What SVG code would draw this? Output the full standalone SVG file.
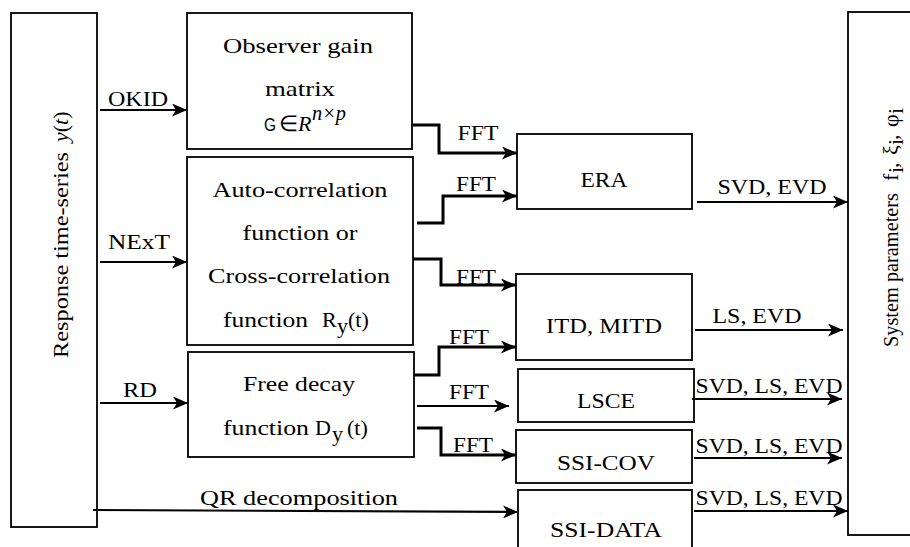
<svg xmlns="http://www.w3.org/2000/svg" width="910" height="547" viewBox="0 0 910 547">
<style>
.t{font-family:"Liberation Serif","Times New Roman",serif;font-size:22px;fill:#000}
.m{text-anchor:middle}
.box{fill:#fff;stroke:#000;stroke-width:1.8}
.c{fill:none;stroke:#000;stroke-width:2.2}
.f{fill:none;stroke:#000;stroke-width:3}
.it{font-style:italic}
</style>
<defs>
<marker id="ah" markerUnits="userSpaceOnUse" markerWidth="16" markerHeight="13" refX="15" refY="6.5" orient="auto">
<path d="M0,0 L15,6.5 L0,13 L4,6.5 Z" fill="#000"/>
</marker>
</defs>
<rect width="910" height="547" fill="#fff"/>

<g id="response">
<rect class="box" x="11" y="13" width="86" height="514"/>
<g transform="translate(68,358) rotate(-90)">
<text class="t" x="0" y="0" textLength="206" lengthAdjust="spacingAndGlyphs">Response time-series</text>
<text class="t" x="216" y="0"><tspan class="it">y</tspan>(<tspan class="it">t</tspan>)</text>
</g>
</g>

<g id="system">
<rect class="box" x="848" y="12" width="70" height="523"/>
<g transform="translate(898,347) rotate(-90)">
<text class="t" x="0" y="0" font-size="21" textLength="154" lengthAdjust="spacingAndGlyphs">System parameters</text>
<text class="t" x="166" y="0">f</text><text class="t" x="174" y="5" font-size="14">i</text><text class="t" x="179" y="0">,</text>
<text class="t" x="192" y="0">ξ</text><text class="t" x="202" y="5" font-size="14">i</text><text class="t" x="207" y="0">,</text>
<text class="t" x="220" y="0">φ</text><text class="t" x="233" y="5" font-size="14">i</text>
</g>
</g>

<g id="observer">
<rect class="box" x="187" y="13" width="225" height="136"/>
<text class="t m" x="298" y="53" textLength="150" lengthAdjust="spacingAndGlyphs">Observer gain</text>
<text class="t m" x="300" y="96" font-size="23" textLength="70" lengthAdjust="spacingAndGlyphs">matrix</text>
<text x="264" y="131" font-family="Liberation Sans, Arial, sans-serif" font-size="19" textLength="12" lengthAdjust="spacingAndGlyphs">G</text>
<text class="t m" x="288" y="131" font-size="16">∈</text>
<text class="t it" x="298" y="131">R</text>
<text class="t it" x="312" y="120" font-size="15" textLength="34" lengthAdjust="spacingAndGlyphs">n×p</text>
</g>

<g id="autocorr">
<rect class="box" x="187" y="157" width="226" height="188"/>
<text class="t m" x="300" y="197" textLength="175" lengthAdjust="spacingAndGlyphs">Auto-correlation</text>
<text class="t m" x="300" y="240" textLength="115" lengthAdjust="spacingAndGlyphs">function or</text>
<text class="t m" x="299" y="283" textLength="182" lengthAdjust="spacingAndGlyphs">Cross-correlation</text>
<text class="t" x="223" y="327" textLength="85" lengthAdjust="spacingAndGlyphs">function</text>
<text class="t" x="322" y="327">R</text>
<text class="t" x="337" y="333" font-size="15">y</text>
<text class="t" x="348" y="327" font-size="23">(t)</text>
</g>

<g id="freedecay">
<rect class="box" x="188" y="352" width="226" height="105"/>
<text class="t m" x="299" y="391" textLength="112" lengthAdjust="spacingAndGlyphs">Free decay</text>
<text class="t" x="223" y="435" textLength="86" lengthAdjust="spacingAndGlyphs">function</text>
<text class="t" x="315" y="435">D</text>
<text class="t" x="332" y="441" font-size="15">y</text>
<text class="t" x="347" y="435" font-size="23">(t)</text>
</g>

<g id="era">
<rect class="box" x="517" y="134" width="175" height="75"/>
<text class="t m" x="604" y="187" textLength="47" lengthAdjust="spacingAndGlyphs">ERA</text>
</g>

<g id="itd">
<rect class="box" x="516" y="274" width="176" height="86"/>
<text class="t m" x="604" y="333" textLength="116" lengthAdjust="spacingAndGlyphs">ITD, MITD</text>
</g>

<g id="lsce">
<rect class="box" x="518" y="369" width="176" height="53"/>
<text class="t m" x="606" y="408" textLength="58" lengthAdjust="spacingAndGlyphs">LSCE</text>
</g>

<g id="ssicov">
<rect class="box" x="516" y="430" width="176" height="53"/>
<text class="t m" x="606" y="470" textLength="98" lengthAdjust="spacingAndGlyphs">SSI-COV</text>
</g>

<g id="ssidata">
<rect class="box" x="518" y="490" width="174" height="70"/>
<text class="t m" x="606" y="537" textLength="112" lengthAdjust="spacingAndGlyphs">SSI-DATA</text>
</g>

<g id="connectors">
<path class="c" d="M100,110 H187" marker-end="url(#ah)"/>
<path class="c" d="M100,262 H187" marker-end="url(#ah)"/>
<path class="c" d="M100,403 H188" marker-end="url(#ah)"/>
<path class="c" d="M93,510 L518,512" marker-end="url(#ah)"/>
<path class="f" d="M413,125 H439 V153 H517" marker-end="url(#ah)"/>
<path class="f" d="M417,223 H443 V196 H517" marker-end="url(#ah)"/>
<path class="f" d="M413,259 H441 V285 H516" marker-end="url(#ah)"/>
<path class="f" d="M414,375 H439 V347 H516" marker-end="url(#ah)"/>
<path class="c" d="M417,406 H509" marker-end="url(#ah)"/>
<path class="f" d="M417,428 H441 V455 H516" marker-end="url(#ah)"/>
<path class="c" d="M697,202 H848" marker-end="url(#ah)"/>
<path class="c" d="M695,330 H843" marker-end="url(#ah)"/>
<path class="c" d="M692,399 H842" marker-end="url(#ah)"/>
<path class="c" d="M694,458 H842" marker-end="url(#ah)"/>
<path class="c" d="M694,511 H848" marker-end="url(#ah)"/>

<text class="t m" x="138" y="106" textLength="60" lengthAdjust="spacingAndGlyphs">OKID</text>
<text class="t m" x="139" y="249" textLength="62" lengthAdjust="spacingAndGlyphs">NExT</text>
<text class="t m" x="140" y="397" textLength="34" lengthAdjust="spacingAndGlyphs">RD</text>
<text class="t m" x="299" y="505" textLength="198" lengthAdjust="spacingAndGlyphs">QR decomposition</text>
<text class="t m" x="478" y="140" textLength="41" lengthAdjust="spacingAndGlyphs">FFT</text>
<text class="t m" x="476" y="191" textLength="40" lengthAdjust="spacingAndGlyphs">FFT</text>
<text class="t m" x="476" y="284" textLength="40" lengthAdjust="spacingAndGlyphs">FFT</text>
<text class="t m" x="469" y="344" textLength="40" lengthAdjust="spacingAndGlyphs">FFT</text>
<text class="t m" x="469" y="399" textLength="40" lengthAdjust="spacingAndGlyphs">FFT</text>
<text class="t m" x="473" y="452" textLength="40" lengthAdjust="spacingAndGlyphs">FFT</text>
<text class="t m" x="772" y="194" textLength="109" lengthAdjust="spacingAndGlyphs">SVD, EVD</text>
<text class="t m" x="757" y="323" textLength="89" lengthAdjust="spacingAndGlyphs">LS, EVD</text>
<text class="t m" x="769" y="393" textLength="147" lengthAdjust="spacingAndGlyphs">SVD, LS, EVD</text>
<text class="t m" x="769" y="453" textLength="147" lengthAdjust="spacingAndGlyphs">SVD, LS, EVD</text>
<text class="t m" x="769" y="505" textLength="147" lengthAdjust="spacingAndGlyphs">SVD, LS, EVD</text>
</g>
</svg>
